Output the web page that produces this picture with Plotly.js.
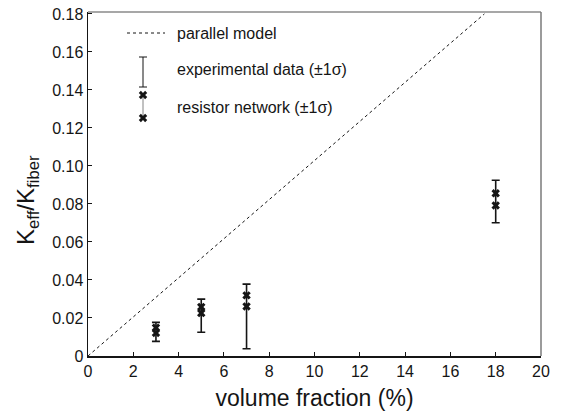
<!DOCTYPE html>
<html>
<head>
<meta charset="utf-8">
<script src="https://cdn.plot.ly/plotly-3.0.1.min.js"></script>
<style>
  html, body { margin: 0; padding: 0; background: #fff; }
  #chart { width: 564px; height: 412px; }
</style>
</head>
<body>
<div id="chart"></div>
<script>
// Fibre volume fraction of each sample (%)
const volumeFraction = [3, 5, 7, 18];

// Measured K_eff/K_fiber: mean and one standard deviation
const expMean  = [0.0127, 0.0212, 0.0208, 0.0813];
const expSigma = [0.0050, 0.0087, 0.0170, 0.0112];

// Resistor network prediction: mean and one standard deviation
const netMean  = [0.0135, 0.0242, 0.0290, 0.0824];
const netSigma = [0.0014, 0.0016, 0.0029, 0.0032];

// Parallel (rule of mixtures) model line
const parallelX = [0, 17.5];
const parallelY = [0, 0.18];

// Axis ticks
const xTicks = [0, 2, 4, 6, 8, 10, 12, 14, 16, 18, 20];
const yTicks = [0, 0.02, 0.04, 0.06, 0.08, 0.10, 0.12, 0.14, 0.16, 0.18];
const yTickText = ['0', '0.02', '0.04', '0.06', '0.08', '0.10', '0.12', '0.14', '0.16', '0.18'];

// Text
const xTitle = 'volume fraction (%)';
const yTitle = 'K<sub>eff</sub>/K<sub>fiber</sub>';
const legendLabels = ['parallel model', 'experimental data (\u00b11\u03c3)', 'resistor network (\u00b11\u03c3)'];

const FONT = 'Liberation Sans, Arial, Helvetica, sans-serif';
const INK = '#151515';
const W = 564, H = 412;
const M = { l: 88, r: 23, t: 12, b: 56 };
const PW = W - M.l - M.r, PH = H - M.t - M.b;

// pixel position -> paper fraction (used for the hand-built legend and y title)
const px = x => (x - M.l) / PW;
const py = y => (H - M.b - y) / PH;

const netUpper = netMean.map((m, i) => m + netSigma[i]);
const netLower = netMean.map((m, i) => m - netSigma[i]);

const xMarker = { symbol: 'x', size: 7.5, color: INK, line: { width: 0 } };

const traces = [
  {
    x: parallelX, y: parallelY, mode: 'lines',
    line: { color: INK, width: 1, dash: '3px,3px' },
    hoverinfo: 'skip'
  },
  {
    x: volumeFraction, y: expMean, mode: 'markers',
    marker: { size: 1, color: 'rgba(0,0,0,0)' },
    error_y: { type: 'data', array: expSigma, visible: true, color: INK, thickness: 1.6, width: 4 }
  },
  { x: volumeFraction, y: netUpper, mode: 'markers', marker: xMarker },
  { x: volumeFraction, y: netLower, mode: 'markers', marker: xMarker },
  // legend glyph: the pair of network markers, on an overlay axis spanning the plot area
  {
    x: [px(143), px(143)], y: [py(95), py(118)], xaxis: 'x2', yaxis: 'y2',
    mode: 'lines+markers', marker: xMarker, line: { color: '#666', width: 0.8 },
    hoverinfo: 'skip'
  }
];

const lx = 175;
const layout = {
  width: W, height: H,
  margin: M,
  paper_bgcolor: '#fff', plot_bgcolor: '#fff',
  showlegend: false,
  font: { family: FONT, color: INK, size: 16 },
  xaxis: {
    range: [0, 20], tickvals: xTicks, ticktext: xTicks.map(String),
    ticks: 'inside', ticklen: 4, tickwidth: 1, tickcolor: INK,
    showline: true, linecolor: INK, linewidth: 1.5, mirror: false,
    showgrid: false, zeroline: false,
    tickfont: { family: FONT, size: 16, color: INK },
    title: { text: xTitle, font: { family: FONT, size: 23, color: INK }, standoff: 11 }
  },
  yaxis: {
    range: [0, 0.181], tickvals: yTicks, ticktext: yTickText,
    ticks: 'inside', ticklen: 4, tickwidth: 1, tickcolor: INK,
    showline: true, linecolor: INK, linewidth: 1.5, mirror: false,
    showgrid: false, zeroline: false,
    tickfont: { family: FONT, size: 16, color: INK }
  },
  xaxis2: { overlaying: 'x', range: [0, 1], visible: false, fixedrange: true },
  yaxis2: { overlaying: 'y', range: [0, 1], visible: false, fixedrange: true },
  shapes: [
    // upper and right frame edges
    { type: 'line', xref: 'paper', yref: 'paper', x0: 0, x1: 1, y0: 1, y1: 1, line: { color: '#8a8a8a', width: 1.5 } },
    { type: 'line', xref: 'paper', yref: 'paper', x0: 1, x1: 1, y0: 0, y1: 1, line: { color: '#7a7a7a', width: 1.5 } },
    // legend: dashed line
    { type: 'line', xref: 'paper', yref: 'paper', x0: px(127), x1: px(165), y0: py(33), y1: py(33), line: { color: INK, width: 1, dash: '3px,3px' } },
    // legend: error bar glyph
    { type: 'line', xref: 'paper', yref: 'paper', x0: px(143), x1: px(143), y0: py(57), y1: py(87), line: { color: INK, width: 1 } },
    { type: 'line', xref: 'paper', yref: 'paper', x0: px(139), x1: px(147), y0: py(57), y1: py(57), line: { color: INK, width: 1 } },
    { type: 'line', xref: 'paper', yref: 'paper', x0: px(139), x1: px(147), y0: py(87), y1: py(87), line: { color: INK, width: 1 } }
  ],
  annotations: [33, 70, 107].map((y, i) => ({
    xref: 'paper', yref: 'paper', x: px(lx), y: py(y),
    xanchor: 'left', yanchor: 'middle', showarrow: false,
    text: legendLabels[i], font: { family: FONT, size: 16, color: INK }
  })).concat([{
    // y axis title
    xref: 'paper', yref: 'paper', x: px(27), y: py(200),
    xanchor: 'center', yanchor: 'middle', showarrow: false, textangle: -90,
    text: yTitle, font: { family: FONT, size: 24, color: INK }
  }])
};

Plotly.newPlot('chart', traces, layout, { staticPlot: true, displayModeBar: false });
</script>
</body>
</html>
